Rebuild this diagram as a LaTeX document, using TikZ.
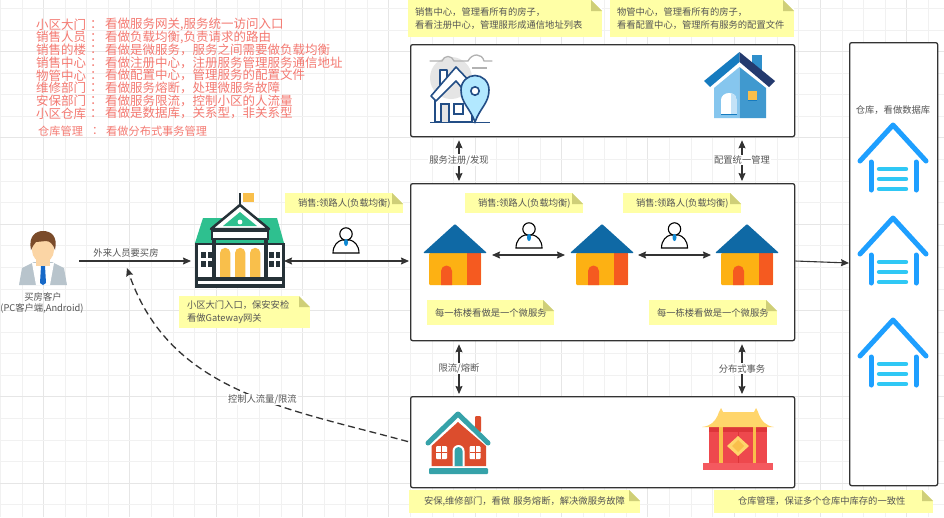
\documentclass[tikz,border=0pt]{standalone}
\usepackage{fontspec}
\setmainfont{Noto Sans CJK SC}
\usetikzlibrary{arrows.meta,calc}
\definecolor{gridA}{HTML}{F1F1F1}
\definecolor{gridB}{HTML}{E6E6E6}
\definecolor{ink}{HTML}{333333}
\definecolor{lbl}{HTML}{555555}
\definecolor{noteY}{HTML}{FFFFA6}
\definecolor{foldY}{HTML}{CFCF78}
\definecolor{redT}{HTML}{F47A72}
\definecolor{roofB}{HTML}{0F69A5}
\definecolor{wallO}{HTML}{FDB113}
\definecolor{wallR}{HTML}{F55A20}
\definecolor{navy}{HTML}{234E86}
\definecolor{gdark}{HTML}{263238}
\definecolor{ggreen}{HTML}{2EC08F}
\definecolor{gyellow}{HTML}{F9BF4B}
\definecolor{teal}{HTML}{36A2A9}
\definecolor{brick}{HTML}{DC4D2D}
\definecolor{wblue}{HTML}{1E9FFF}
\definecolor{wcyan}{HTML}{2FC8F5}
\definecolor{chimB}{HTML}{2F8FCB}
\definecolor{cfgL}{HTML}{86C6EE}
\definecolor{cfgR}{HTML}{4099CF}
\definecolor{cfgTop}{HTML}{167BBF}
\definecolor{cfgDark}{HTML}{243A6E}
\definecolor{palaceR}{HTML}{EE484D}
\definecolor{palaceD}{HTML}{DD3539}
\definecolor{palaceY}{HTML}{FFD56B}
\definecolor{palaceB}{HTML}{F4595F}
\definecolor{suit}{HTML}{B8C4CC}
\definecolor{skin}{HTML}{FBD5A5}
\definecolor{hair}{HTML}{7A4B2A}
\definecolor{tieB}{HTML}{1668C7}
\tikzset{
  box/.style={draw=ink,line width=1.3pt,rounded corners=2pt,fill=white,inner sep=0pt,anchor=north west},
  hold/.style={inner sep=0pt,outer sep=0pt,draw=none},
  notebox/.style={fill=noteY,inner sep=0pt,outer sep=0pt,anchor=north west,align=left,text=lbl,font=\fontsize{9.3}{13}\selectfont},
  conn/.style={draw=ink,line width=1.1pt,-{Stealth[length=8pt,width=7pt,inset=1pt]}},
  dbl/.style={draw=ink,line width=1.1pt,{Stealth[length=8pt,width=7pt,inset=1pt]}-{Stealth[length=8pt,width=7pt,inset=1pt]}},
  lab/.style={fill=white,text=lbl,inner sep=1pt,font=\fontsize{9.3}{11}\selectfont},
  plain/.style={text=lbl,inner sep=0pt,font=\fontsize{9.3}{11}\selectfont},
  redA/.style={text=redT,inner sep=0pt,anchor=west,font=\fontsize{12.5}{13}\selectfont},
  redB/.style={text=redT,inner sep=0pt,anchor=west,font=\fontsize{11.2}{13}\selectfont},
  pics/orangehouse/.style={code={
    \fill[wallO,rounded corners=1pt] (429,253) rectangle (481,285);
    \fill[wallR] (467,253) rectangle (481,285);
    \fill[wallR] (441,285) -- (441,271) arc[start angle=180,end angle=0,x radius=5.5,y radius=-5.5] -- (452,285) -- cycle;
    \fill[roofB,rounded corners=1pt] (423,253) -- (455,224) -- (487,253) -- cycle;
  }},
  pics/person/.style={code={
    \draw[black,line width=1.1pt,fill=white] (0,26) .. controls (0,18) and (5,14) .. (9,13) -- (17,13) .. controls (21,14) and (26,18) .. (26,26) -- cycle;
    \draw[black,line width=1.1pt,fill=white] (13,7) circle[radius=6.2];
    \fill[cyan!70!blue] (13,15.5) ellipse[x radius=2,y radius=3.6];
  }},
  pics/depot/.style={code={
    \draw[wblue,line width=5pt,line cap=round,line join=round] (860,163) -- (893,127) -- (926,163);
    \draw[wblue,line width=5pt,line cap=round] (871,164) -- (871,192) (916,164) -- (916,192);
    \draw[wcyan,line width=4.4pt,line cap=round] (879,171) -- (906,171) (879,181) -- (906,181) (879,191) -- (906,191);
  }},
}
\newcommand{\stickynote}[6]{%
  \node[notebox,minimum width=#4pt,minimum height=#5pt,text width=#4pt] (#1) at (#2,#3) {#6};
  \fill[white] (#1.north east) ++(-11,0) -- (#1.north east) -- ++(0,11) -- cycle;
  \fill[foldY] (#1.north east) ++(-11,0) -- ++(11,11) -- ++(-11,0) -- cycle;
}
\begin{document}
\begin{tikzpicture}[x=1pt,y=-1pt]
\useasboundingbox (0,0) rectangle (944,517);
\fill[white] (0,0) rectangle (944,517);
% grid
\foreach \i in {0,...,44}{
  \pgfmathsetmacro{\xx}{0.3+21.58*\i}
  \pgfmathtruncatemacro{\mm}{mod(\i+2,4)}
  \ifnum\mm=0 \draw[gridB,line width=.7pt] (\xx,0) -- (\xx,517);\else \draw[gridA,line width=.6pt] (\xx,0) -- (\xx,517);\fi
}
\foreach \i in {0,...,24}{
  \pgfmathsetmacro{\yy}{8.3+21.58*\i}
  \pgfmathtruncatemacro{\mm}{mod(\i+2,4)}
  \ifnum\mm=0 \draw[gridB,line width=.7pt] (0,\yy) -- (944,\yy);\else \draw[gridA,line width=.6pt] (0,\yy) -- (944,\yy);\fi
}
% red legend
\node[redA] (r1a) at (36,24.5) {小区大门}; \node[redA] (r1c) at (90,24.5) {：}; \node[redA] (r1b) at (105,24.5) {看做服务网关,服务统一访问入口};
\node[redA] (r2a) at (36,37.2) {销售人员}; \node[redA] (r2c) at (90,37.2) {：}; \node[redA] (r2b) at (105,37.2) {看做负载均衡,负责请求的路由};
\node[redA] (r3a) at (36,49.9) {销售的楼}; \node[redA] (r3c) at (90,49.9) {：}; \node[redA] (r3b) at (105,49.9) {看做是微服务，服务之间需要做负载均衡};
\node[redA] (r4a) at (36,62.6) {销售中心}; \node[redA] (r4c) at (90,62.6) {：}; \node[redA] (r4b) at (105,62.6) {看做注册中心，注册服务管理服务通信地址};
\node[redA] (r5a) at (36,75.3) {物管中心}; \node[redA] (r5c) at (90,75.3) {：}; \node[redA] (r5b) at (105,75.3) {看做配置中心，管理服务的配置文件};
\node[redA] (r6a) at (36,88) {维修部门}; \node[redA] (r6c) at (90,88) {：}; \node[redA] (r6b) at (105,88) {看做服务熔断，处理微服务故障};
\node[redA] (r7a) at (36,100.7) {安保部门}; \node[redA] (r7c) at (90,100.7) {：}; \node[redA] (r7b) at (105,100.7) {看做服务限流，控制小区的人流量};
\node[redA] (r8a) at (36,113.4) {小区仓库}; \node[redA] (r8c) at (90,113.4) {：}; \node[redA] (r8b) at (105,113.4) {看做是数据库，关系型，非关系型};
\node[redB] (r9a) at (38,131) {仓库管理}; \node[redB] (r9c) at (92,131) {：}; \node[redB] (r9b) at (106,131) {看做分布式事务管理};
% boxes
\node[box,minimum width=384pt,minimum height=92pt] (top) at (410,44) {};
\node[box,minimum width=384pt,minimum height=157pt] (mid) at (410,183) {};
\node[box,minimum width=384pt,minimum height=91pt] (bot) at (410,396) {};
\node[box,minimum width=88pt,minimum height=443pt] (store) at (849,42) {};
% notes
\stickynote{n1}{408}{0}{194}{37}{\hspace*{7pt}销售中心，管理看所有的房子，\\\hspace*{7pt}看看注册中心，管理服形成通信地址列表}
\stickynote{n2}{610}{0}{184}{37}{\hspace*{7pt}物管中心，管理看所有的房子，\\\hspace*{7pt}看看配置中心，管理所有服务的配置文件}
\stickynote{n3}{285}{193}{118}{20}{\hspace*{13pt}销售:领路人(负载均衡)}
\stickynote{n4}{465}{193}{118}{20}{\hspace*{13pt}销售:领路人(负载均衡)}
\stickynote{n5}{623}{193}{118}{20}{\hspace*{13pt}销售:领路人(负载均衡)}
\stickynote{n6}{179}{296}{131}{32}{\hspace*{8pt}小区大门入口，保安安检\\\hspace*{8pt}看做Gateway网关}
\stickynote{n7}{427}{300}{127}{25}{\hspace*{8pt}每一栋楼看做是一个微服务}
\stickynote{n8}{649}{300}{128}{25}{\hspace*{8pt}每一栋楼看做是一个微服务}
\stickynote{n9}{409}{490}{231}{23}{\hspace*{15pt}安保,维修部门，看做 服务熔断，解决微服务故障}
\stickynote{n10}{714}{490}{219}{23}{\hspace*{24pt}仓库管理，保证多个仓库中库存的一致性}
% anchor holders
\node[hold,minimum width=72pt,minimum height=2pt] (client) at (43,261) {};
\node[hold,minimum width=93pt,minimum height=2pt] (gate) at (237.5,261) {};
\coordinate (leftx) at (459,160);
\coordinate (rightx) at (742,160);
\coordinate (dashend) at (127,268);
\coordinate (hub1r) at (492,255);
\coordinate (hub2l) at (565,255);
\coordinate (hub2r) at (638,255);
\coordinate (hub3l) at (711,255);
\coordinate (storein) at (849,263);
% connectors
\draw[conn] (client) -- node[pos=.42,above=3pt,plain] (lab0) {外来人员要买房} (gate);
\draw[dbl,shorten <=0pt,shorten >=1pt] (gate.east) -- (mid.west |- gate);
\draw[dbl,shorten <=3pt,shorten >=2pt] (top.south -| leftx) -- node[lab] (lab1) {服务注册/发现} (mid.north -| leftx);
\draw[dbl,shorten <=3pt,shorten >=2pt] (top.south -| rightx) -- node[lab] (lab2) {配置统一管理} (mid.north -| rightx);
\draw[dbl,shorten <=3pt,shorten >=2pt] (mid.south -| leftx) -- node[lab] (lab3) {限流/熔断} (bot.north -| leftx);
\draw[dbl,shorten <=3pt,shorten >=2pt] (mid.south -| rightx) -- node[lab] (lab4) {分布式事务} (bot.north -| rightx);
\draw[dbl] (hub1r) -- (hub2l);
\draw[dbl] (hub2r) -- (hub3l);
\draw[conn] (mid.east |- gate) -- (storein);
\draw[conn,line width=1.3pt,dash pattern=on 7pt off 4pt,shorten <=2pt] (bot.west) .. controls (285,408) and (170,392) .. node[pos=.42,lab] (lab5) {控制人流量/限流} (dashend);
% client icon
\begin{scope}
 \fill[suit] (19,285) -- (22,268) -- (34,262) -- (52,262) -- (64,268) -- (67,285) -- cycle;
 \fill[white] (32,263) -- (54,263) -- (50,285) -- (36,285) -- cycle;
 \fill[tieB] (41,266) -- (45,266) -- (46,283) -- (43,285) -- (40,283) -- cycle;
 \fill[skin] (36,255) rectangle (50,266);
 \fill[skin] (43,250) ellipse[x radius=11,y radius=12.5];
 \fill[hair] (31,250) .. controls (28,236) and (36,231) .. (43,231) .. controls (51,231) and (58,236) .. (55,250) .. controls (53,244) and (50,241) .. (46,241) -- (36,242) .. controls (34,244) and (33,246) .. (31,250) -- cycle;
\end{scope}
\node[plain] (ctext1) at (43,297) {买房客户};
\node[plain] (ctext2) at (42,308) {(PC客户端,Android)};
% gateway icon
\begin{scope}
 \draw[gdark,line width=2pt] (239.5,193) -- (239.5,206);
 \fill[gyellow] (243,193) rectangle (254,202);
 \fill[ggreen] (203,218) -- (277,218) -- (284,243) -- (195,243) -- cycle;
 \fill[white,draw=gdark,line width=2.5pt,line join=round] (240,205) -- (211,229) -- (269,229) -- cycle;
 \fill[ggreen] (240,212) -- (223,226) -- (257,226) -- cycle;
 \fill[white] (240,222) circle[radius=2.4];
 \fill[white,draw=gdark,line width=2pt] (212,231) rectangle (268,238.5);
 \fill[white,draw=gdark,line width=2.5pt] (196.5,244) rectangle (283.5,286);
 \fill[gdark] (212,238) rectangle (216,277);
 \fill[gdark] (264,238) rectangle (268,277);
 \foreach \ax in {220,235,250}{
   \fill[gyellow] (\ax,277) -- (\ax,253) arc[start angle=180,end angle=0,x radius=5.2,y radius=-5.2] -- (\ax+10.4,277) -- cycle;
 }
 \foreach \wx in {201,207.5,269,275.5}{
   \fill[gdark] (\wx,252) rectangle ++(4.5,6);
   \fill[gdark] (\wx,261) rectangle ++(4.5,6);
 }
 \fill[gdark] (195,277) rectangle (285,288);
 \fill[white] (198,281) rectangle (282,284);
\end{scope}
% persons
\pic at (333,227) {person};
\pic at (516,222) {person};
\pic at (661.5,222) {person};
% orange houses
\pic at (0,0) {orangehouse};
\pic at (147,0) {orangehouse};
\pic at (292,0) {orangehouse};
% pin house icon
\begin{scope}
 \fill[black!10] (451,78) circle[radius=21];
 \draw[black!30,line width=1.3pt,line cap=round] (430,61) -- (442,61) .. controls (444,55) and (452,55) .. (454,61) -- (468,61) .. controls (472,53) and (482,53) .. (484,61) -- (492,61);
 \draw[black!30,line width=1.3pt] (472,68) -- (487,68);
 \draw[navy,line width=1.6pt,line join=round,fill=white] (440,90) -- (440,70) -- (447,70) -- (447,80) ;
 \draw[navy,line width=1.6pt,line join=round,fill=white] (431,96) -- (456,67) -- (475,87) -- (468,95) -- (456,81) -- (436,101) -- cycle;
 \draw[navy,line width=1.6pt] (435,100) -- (435,122) -- (472,122) -- (472,95);
 \draw[navy,line width=1.6pt,fill=black!10] (441,122) -- (441,104) -- (449,104) -- (449,122);
 \draw[navy,line width=1.6pt,fill=white] (454,104) rectangle (463,114);
 \draw[navy,line width=1.6pt,fill=blue!30!cyan!30] (475,122) .. controls (470,108) and (461,103) .. (461,90) .. controls (461,81) and (468,75.5) .. (475,75.5) .. controls (482,75.5) and (489,81) .. (489,90) .. controls (489,103) and (480,108) .. (475,122) -- cycle;
 \draw[navy,line width=1.6pt,fill=white] (475,91) circle[radius=4.2];
 \draw[navy,line width=1.6pt] (430,122.5) -- (490,122.5);
\end{scope}
% config house icon
\begin{scope}
 \fill[chimB] (752,55) rectangle (762,72);
 \fill[cfgL] (739.5,67) -- (714,88) -- (714,118) -- (739.5,118) -- cycle;
 \fill[cfgR] (739.5,67) -- (766,88) -- (766,118) -- (739.5,118) -- cycle;
 \fill[cfgTop] (739.5,52) -- (704,81) -- (710,87) -- (739.5,62) -- cycle;
 \fill[cfgDark] (739.5,52) -- (775,81) -- (769,87) -- (739.5,62) -- cycle;
 \begin{scope}
  \clip (721,114) -- (721,100) arc[start angle=180,end angle=0,x radius=8,y radius=-7] -- (737,114) -- cycle;
  \fill[white] (721,90) rectangle (737,114);
  \fill[cfgL!50!white] (731,90) rectangle (737,114);
 \end{scope}
 \fill[cfgTop] (721,114) rectangle (737,115);
 \fill[gyellow] (747.5,91) rectangle (757,100);
 \fill[cfgTop] (747.5,100) rectangle (757,101);
\end{scope}
% security house icon
\begin{scope}
 \fill[brick,rounded corners=1pt] (475,416) rectangle (481,432);
 \fill[brick] (458,422) -- (431.5,446) -- (431.5,466) -- (486,466) -- (486,446) -- cycle;
 \draw[teal,line width=5pt,line cap=round,line join=round] (428,443) -- (458,414) -- (488,443);
 \fill[white] (452.5,466) -- (452.5,451) arc[start angle=180,end angle=0,x radius=6,y radius=-6] -- (464.5,466) -- cycle;
 \fill[teal] (454.5,466) -- (454.5,451) arc[start angle=180,end angle=0,x radius=4,y radius=-4] -- (462.5,466) -- cycle;
 \foreach \wx in {436,469.5}{
   \fill[white,rounded corners=1pt] (\wx,446) rectangle ++(11,13);
   \draw[brick,line width=.8pt] (\wx+5.5,446) -- (\wx+5.5,459) (\wx,452.5) -- (\wx+11,452.5);
 }
 \fill[teal,rounded corners=1pt] (429,468) rectangle (488,474);
\end{scope}
% chinese building icon
\begin{scope}
 \fill[palaceR] (709,426) rectangle (767,463);
 \fill[palaceD] (709,426) rectangle (767,432);
 \fill[palaceD] (737.5,432) rectangle (738.5,463);
 \fill[gyellow] (719,427) rectangle (723,463);
 \fill[gyellow] (752.5,427) rectangle (756,463);
 \fill[palaceY] (738,436) -- (749,446) -- (738,456) -- (727,446) -- cycle;
 \fill[gyellow] (738,440) -- (744,446) -- (738,452) -- (732,446) -- cycle;
 \fill[palaceY] (702,427) .. controls (711,426) and (716,421) .. (719,412) -- (721,408) -- (723,412) -- (754,412) -- (756,408) -- (758,412) .. controls (761,421) and (766,426) .. (774,427) -- cycle;
 \fill[palaceB] (703,463) rectangle (773,470);
\end{scope}
% warehouse icons
\node[plain] (storetxt) at (893,110) {仓库，看做数据库};
\pic at (0,-2) {depot};
\pic at (0,91) {depot};
\pic at (0,193) {depot};
\end{tikzpicture}
\end{document}
